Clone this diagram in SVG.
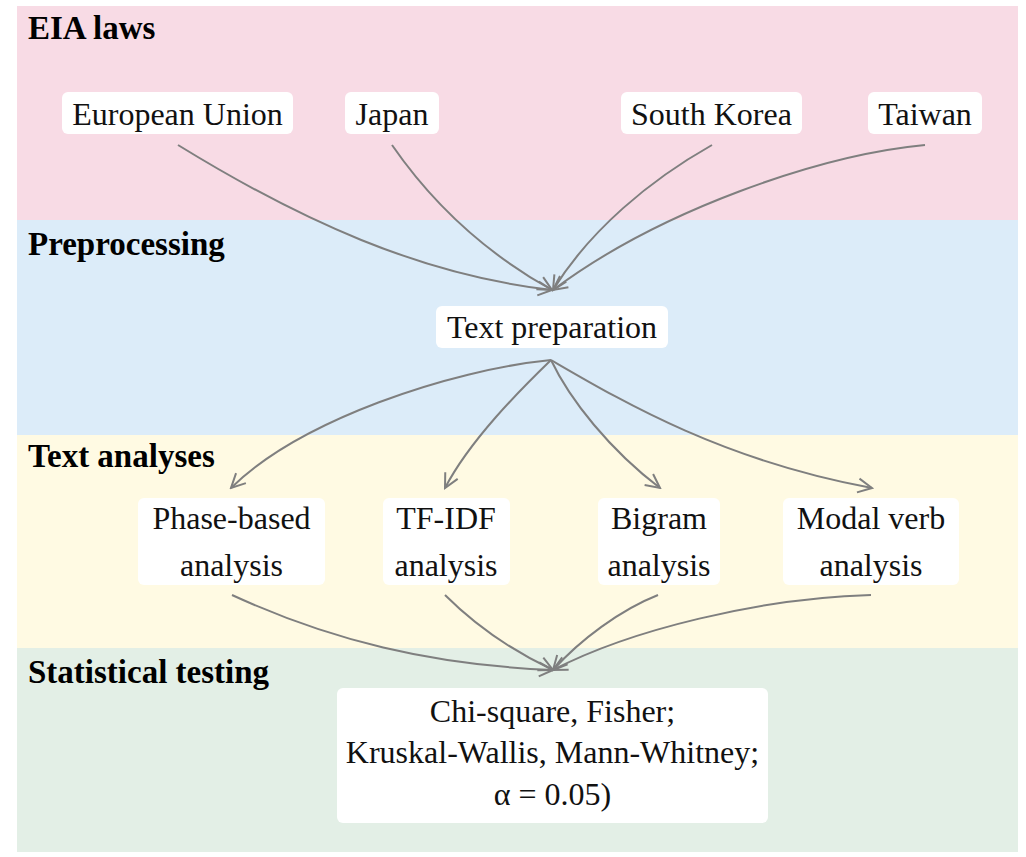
<svg xmlns="http://www.w3.org/2000/svg" width="1026" height="857" viewBox="0 0 1026 857">
<style>
.sec{font-family:"Liberation Serif","Times New Roman",serif;font-weight:bold;font-size:33px;fill:#000}
.lbl{font-family:"Liberation Serif","Times New Roman",serif;font-size:32px;fill:#111;text-anchor:middle}
.box{fill:#fff;stroke:none}
.edge{fill:none;stroke:#7f7f7f;stroke-width:2;marker-end:url(#arr)}
</style>
<defs>
<marker id="arr" markerUnits="userSpaceOnUse" markerWidth="18" markerHeight="18" viewBox="0 0 18 18" refX="16" refY="9" orient="auto">
<path d="M2,2 L16,9 L2,16" fill="none" stroke="#7f7f7f" stroke-width="2"/>
</marker>
</defs>
<rect width="1026" height="857" fill="#fff"/>
<rect x="17" y="6" width="1001" height="214" fill="#f8dbe5"/>
<rect x="17" y="220" width="1001" height="215" fill="#dcecf9"/>
<rect x="17" y="435" width="1001" height="213" fill="#fffae3"/>
<rect x="17" y="648" width="1001" height="204" fill="#e3efe6"/>
<text class="sec" x="28" y="39">EIA laws</text>
<text class="sec" x="28" y="255">Preprocessing</text>
<text class="sec" x="28" y="467">Text analyses</text>
<text class="sec" x="28" y="683">Statistical testing</text>
<g id="connectors">
<path class="edge" d="M178,145 C300,220 420,275 552,290"/>
<path class="edge" d="M392,145 C430,200 480,250 552,290"/>
<path class="edge" d="M712,145 C650,180 590,230 553,290"/>
<path class="edge" d="M925,145 C820,155 660,210 553,290"/>
<path class="edge" d="M551,360 C450,370 300,420 231,488"/>
<path class="edge" d="M551,360 C520,390 470,440 445,488"/>
<path class="edge" d="M551,360 C570,400 610,450 660,488"/>
<path class="edge" d="M551,360 C620,400 720,460 872,488"/>
<path class="edge" d="M232,595 C330,640 430,665 553,670"/>
<path class="edge" d="M445,595 C465,615 500,645 553,670"/>
<path class="edge" d="M658,595 C620,610 580,640 553,670"/>
<path class="edge" d="M871,595 C760,598 630,630 553,670"/>
</g>
<g id="eu"><rect class="box" x="62" y="92" width="231" height="42" rx="6"/><text class="lbl" x="177.5" y="125">European Union</text></g>
<g id="japan"><rect class="box" x="345" y="92" width="94" height="42" rx="6"/><text class="lbl" x="392" y="125">Japan</text></g>
<g id="korea"><rect class="box" x="621" y="92" width="181" height="42" rx="6"/><text class="lbl" x="711.5" y="125">South Korea</text></g>
<g id="taiwan"><rect class="box" x="868" y="92" width="114" height="42" rx="6"/><text class="lbl" x="925" y="125">Taiwan</text></g>
<g id="prep"><rect class="box" x="436" y="306" width="232" height="42" rx="6"/><text class="lbl" x="552" y="338">Text preparation</text></g>
<g id="phase"><rect class="box" x="138" y="498" width="187" height="87" rx="6"/><text class="lbl" x="231.5" y="529">Phase-based</text><text class="lbl" x="231.5" y="576">analysis</text></g>
<g id="tfidf"><rect class="box" x="383" y="498" width="127" height="87" rx="6"/><text class="lbl" x="446" y="529">TF-IDF</text><text class="lbl" x="446" y="576">analysis</text></g>
<g id="bigram"><rect class="box" x="598" y="498" width="122" height="87" rx="6"/><text class="lbl" x="659" y="529">Bigram</text><text class="lbl" x="659" y="576">analysis</text></g>
<g id="modal"><rect class="box" x="783" y="498" width="176" height="87" rx="6"/><text class="lbl" x="871" y="529">Modal verb</text><text class="lbl" x="871" y="576">analysis</text></g>
<g id="stats"><rect class="box" x="337" y="688" width="431" height="135" rx="6"/><text class="lbl" x="552.5" y="722">Chi-square, Fisher;</text><text class="lbl" x="552.5" y="763">Kruskal-Wallis, Mann-Whitney;</text><text class="lbl" x="552.5" y="805">α = 0.05)</text></g>
</svg>
